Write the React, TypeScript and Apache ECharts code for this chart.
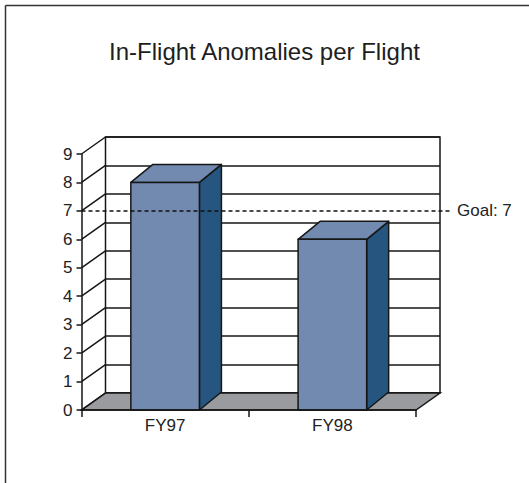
import React, { useEffect, useRef } from "react";
import * as echarts from "echarts";

const categories = ["FY97", "FY98"];
const values = [8, 6];
const yTicks = [0, 1, 2, 3, 4, 5, 6, 7, 8, 9];
const goalValue = 7;
const goalLabel = "Goal: 7";
const titleText = "In-Flight Anomalies per Flight";

const W = 529;
const H = 483;
const WALL_DX = 24;
const WALL_DY = -17;
const BAR_DX = 22;
const BAR_DY = -18;
const FRONT = { left: 81.5, right: 113, top: 154, bottom: 73 };
const LINE = "#161616";
const LW = 1.5;

export default function App() {
  const ref = useRef<HTMLDivElement>(null);
  useEffect(() => {
    if (!ref.current) return;
    const chart = echarts.init(ref.current, null, { renderer: "svg" });
    const font = "Liberation Sans, Arial, sans-serif";
    const back = {
      left: FRONT.left + WALL_DX,
      right: FRONT.right - WALL_DX,
      top: FRONT.top + WALL_DY,
      bottom: FRONT.bottom - WALL_DY,
    };
    const option: any = {
      animation: false,
      backgroundColor: "#ffffff",
      title: {
        text: titleText,
        left: "center",
        top: 34,
        textStyle: { fontFamily: font, fontSize: 24, fontWeight: "normal", color: "#1e1e1e" },
      },
      graphic: [
        { type: "line", shape: { x1: 5.5, y1: 5.5, x2: 5.5, y2: H }, style: { stroke: "#333", lineWidth: 1.5 } },
        { type: "line", shape: { x1: 5.5, y1: 5.5, x2: W, y2: 5.5 }, style: { stroke: "#333", lineWidth: 1.5 } },
      ],
      grid: [
        { ...FRONT },
        { ...back, show: true, backgroundColor: "#ffffff", borderColor: LINE, borderWidth: LW, z: 0 },
      ],
      xAxis: [
        {
          type: "category",
          gridIndex: 0,
          data: categories,
          axisLine: { show: true, lineStyle: { color: LINE, width: LW } },
          axisTick: { show: true, length: 7, lineStyle: { color: LINE, width: LW } },
          axisLabel: { margin: 7, fontFamily: font, fontSize: 17, color: "#222" },
          splitLine: { show: false },
          z: 5,
        },
        {
          type: "category",
          gridIndex: 1,
          data: categories,
          axisLine: { show: false },
          axisTick: { show: false },
          axisLabel: { show: false },
          splitLine: { show: false },
        },
      ],
      yAxis: [
        {
          type: "value",
          gridIndex: 0,
          min: 0,
          max: 9,
          interval: 1,
          axisLine: { show: true, lineStyle: { color: LINE, width: LW } },
          axisTick: { show: true, length: 5, lineStyle: { color: LINE, width: LW } },
          axisLabel: { margin: 9, fontFamily: font, fontSize: 17, color: "#222" },
          splitLine: { show: false },
          z: 5,
        },
        {
          type: "value",
          gridIndex: 1,
          min: 0,
          max: 9,
          interval: 1,
          axisLine: { show: false },
          axisTick: { show: false },
          axisLabel: { show: false },
          splitLine: { show: true, lineStyle: { color: LINE, width: LW } },
        },
      ],
      series: [
        {
          type: "custom",
          name: "floor",
          xAxisIndex: 0,
          yAxisIndex: 0,
          data: [[0, 0]],
          z: 2,
          renderItem: (params: any, api: any) => {
            const cs = params.coordSys;
            const y0 = api.coord([0, 0])[1];
            const xl = cs.x;
            const xr = cs.x + cs.width;
            return {
              type: "polygon",
              shape: {
                points: [
                  [xl, y0],
                  [xr, y0],
                  [xr + WALL_DX, y0 + WALL_DY],
                  [xl + WALL_DX, y0 + WALL_DY],
                ],
              },
              style: { fill: "#9a9b9f", stroke: LINE, lineWidth: LW },
            };
          },
        },
        {
          type: "custom",
          name: "sidewall",
          xAxisIndex: 0,
          yAxisIndex: 0,
          data: yTicks.map((t) => [0, t]),
          z: 3,
          renderItem: (params: any, api: any) => {
            const cs = params.coordSys;
            const y = api.coord([0, api.value(1)])[1];
            return {
              type: "line",
              shape: { x1: cs.x, y1: y, x2: cs.x + WALL_DX, y2: y + WALL_DY },
              style: { stroke: LINE, lineWidth: LW },
            };
          },
        },
        {
          type: "custom",
          name: "bars",
          xAxisIndex: 0,
          yAxisIndex: 0,
          data: values.map((v, i) => [i, v]),
          z: 4,
          renderItem: (params: any, api: any) => {
            const i = api.value(0);
            const v = api.value(1);
            const top = api.coord([i, v]);
            const base = api.coord([i, 0]);
            const bw = api.size([1, 0])[0] * 0.41;
            const x0 = top[0] - bw / 2;
            const x1 = top[0] + bw / 2;
            const t = top[1];
            const b = base[1];
            const st = { stroke: LINE, lineWidth: LW, lineJoin: "round" };
            return {
              type: "group",
              children: [
                {
                  type: "polygon",
                  shape: { points: [[x1, t], [x1 + BAR_DX, t + BAR_DY], [x1 + BAR_DX, b + BAR_DY], [x1, b]] },
                  style: { fill: "#26557f", ...st },
                },
                {
                  type: "polygon",
                  shape: { points: [[x0, t], [x0 + BAR_DX, t + BAR_DY], [x1 + BAR_DX, t + BAR_DY], [x1, t]] },
                  style: { fill: "#728ab0", ...st },
                },
                {
                  type: "rect",
                  shape: { x: x0, y: t, width: bw, height: b - t },
                  style: { fill: "#728ab0", ...st },
                },
              ],
            };
          },
        },
        {
          type: "custom",
          name: "goal",
          xAxisIndex: 0,
          yAxisIndex: 0,
          data: [[0, goalValue]],
          z: 6,
          renderItem: (params: any, api: any) => {
            const cs = params.coordSys;
            const y = api.coord([0, api.value(1)])[1];
            const xEnd = cs.x + cs.width + 36;
            return {
              type: "group",
              children: [
                {
                  type: "line",
                  shape: { x1: cs.x, y1: y, x2: xEnd, y2: y },
                  style: { stroke: "#111", lineWidth: 1.5, lineDash: [4, 3] },
                },
                {
                  type: "text",
                  x: xEnd + 5,
                  y: y,
                  style: {
                    text: goalLabel,
                    fontFamily: font,
                    fontSize: 17,
                    fill: "#222",
                    align: "left",
                    verticalAlign: "middle",
                  },
                },
              ],
            };
          },
        },
      ],
    };
    chart.setOption(option);
    return () => chart.dispose();
  }, []);
  return (
    <div
      ref={ref}
      style={{ position: "fixed", left: 0, top: 0, width: W, height: H, background: "#fff" }}
    />
  );
}
